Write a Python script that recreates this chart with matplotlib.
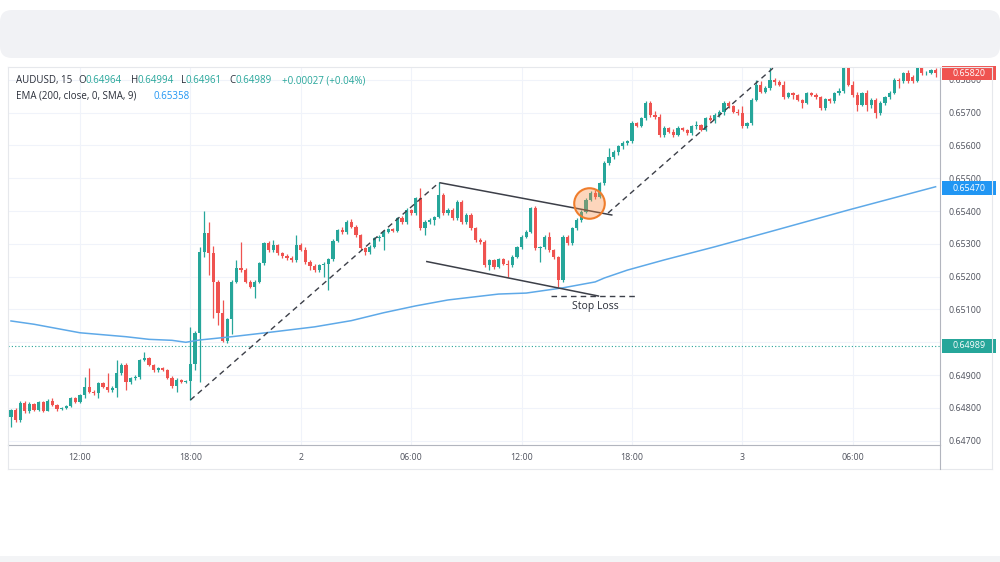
import numpy as np
import matplotlib.pyplot as plt
from matplotlib.patches import Rectangle, FancyBboxPatch

# AUDUSD 15 min candles, first bar 08:15 (day 1) -- prices x 1e5
opens = [64771, 64794, 64763, 64816, 64790, 64812, 64795, 64817, 64792, 64820,
         64809, 64797, 64801, 64805, 64829, 64819, 64838, 64865, 64850, 64845,
         64875, 64865, 64855, 64862, 64905, 64931, 64880, 64890, 64893, 64946,
         64952, 64931, 64916, 64922, 64916, 64892, 64866, 64885, 64880, 64882,
         64933, 65029, 65276, 65334, 65271, 65185, 65088, 65005, 65070, 65185,
         65226, 65221, 65185, 65170, 65185, 65241, 65302, 65280, 65297, 65271,
         65262, 65258, 65250, 65297, 65282, 65246, 65231, 65221, 65236, 65240,
         65253, 65310, 65342, 65335, 65368, 65352, 65327, 65286, 65276, 65291,
         65317, 65322, 65337, 65344, 65340, 65378, 65366, 65403, 65393, 65439,
         65347, 65368, 65372, 65381, 65449, 65393, 65403, 65378, 65428, 65368,
         65388, 65347, 65312, 65307, 65235, 65250, 65230, 65253, 65240, 65235,
         65261, 65289, 65322, 65337, 65408, 65286, 65289, 65322, 65281, 65259,
         65190, 65322, 65303, 65347, 65373, 65398, 65434, 65454, 65444, 65485,
         65546, 65566, 65581, 65597, 65607, 65612, 65668, 65660, 65683, 65729,
         65693, 65688, 65632, 65653, 65642, 65632, 65653, 65648, 65637, 65658,
         65663, 65648, 65683, 65678, 65693, 65703, 65729, 65719, 65703, 65698,
         65658, 65668, 65739, 65785, 65764, 65775, 65800, 65792, 65785, 65747,
         65759, 65754, 65739, 65729, 65759, 65754, 65747, 65714, 65741, 65734,
         65759, 65767, 65836, 65785, 65754, 65724, 65759, 65724, 65739, 65698,
         65729, 65747, 65761, 65800, 65795, 65820, 65810, 65795, 65836, 65820,
         65822, 65830]
highs = [64797, 64800, 64822, 64820, 64818, 64816, 64822, 64820, 64826, 64830,
         64812, 64804, 64808, 64833, 64832, 64842, 64895, 64921, 64855, 64880,
         64880, 64905, 64866, 64946, 64936, 64936, 64895, 64900, 64950, 64970,
         64956, 64935, 64926, 64926, 64920, 64898, 64890, 64888, 64886, 65048,
         65035, 65290, 65400, 65368, 65292, 65190, 65129, 65075, 65190, 65251,
         65307, 65226, 65190, 65190, 65246, 65307, 65310, 65312, 65300, 65276,
         65270, 65262, 65327, 65302, 65290, 65250, 65240, 65240, 65244, 65258,
         65316, 65346, 65350, 65372, 65375, 65356, 65330, 65290, 65295, 65320,
         65326, 65342, 65348, 65347, 65382, 65385, 65408, 65407, 65444, 65469,
         65372, 65378, 65385, 65487, 65455, 65408, 65408, 65433, 65433, 65393,
         65393, 65352, 65317, 65312, 65255, 65253, 65256, 65256, 65252, 65265,
         65293, 65326, 65342, 65413, 65415, 65293, 65326, 65337, 65285, 65263,
         65326, 65326, 65352, 65378, 65403, 65440, 65460, 65464, 65490, 65551,
         65592, 65586, 65602, 65612, 65617, 65673, 65672, 65688, 65734, 65735,
         65705, 65695, 65658, 65656, 65650, 65658, 65656, 65650, 65662, 65673,
         65666, 65688, 65692, 65698, 65708, 65734, 65735, 65722, 65712, 65720,
         65672, 65744, 65800, 65795, 65780, 65841, 65805, 65800, 65795, 65764,
         65764, 65758, 65742, 65764, 65764, 65760, 65750, 65745, 65745, 65764,
         65775, 65845, 65845, 65795, 65764, 65764, 65768, 65744, 65744, 65734,
         65752, 65766, 65805, 65805, 65825, 65830, 65815, 65841, 65841, 65826,
         65834, 65835]
lows = [64743, 64758, 64758, 64785, 64786, 64790, 64790, 64788, 64790, 64805,
        64790, 64793, 64798, 64802, 64815, 64815, 64830, 64845, 64838, 64830,
        64860, 64850, 64850, 64834, 64900, 64855, 64872, 64885, 64888, 64943,
        64928, 64910, 64910, 64912, 64888, 64862, 64850, 64876, 64876, 64824,
        64916, 64880, 65260, 65205, 65073, 65053, 65000, 64998, 65025, 65180,
        65215, 65180, 65165, 65134, 65180, 65236, 65275, 65276, 65266, 65258,
        65252, 65246, 65246, 65278, 65240, 65220, 65215, 65215, 65200, 65160,
        65248, 65305, 65330, 65330, 65348, 65322, 65281, 65265, 65270, 65286,
        65308, 65281, 65333, 65336, 65336, 65362, 65362, 65388, 65388, 65342,
        65327, 65362, 65358, 65378, 65388, 65388, 65373, 65373, 65362, 65362,
        65342, 65307, 65300, 65230, 65220, 65222, 65226, 65236, 65200, 65230,
        65258, 65285, 65318, 65332, 65281, 65246, 65284, 65276, 65255, 65169,
        65185, 65298, 65298, 65342, 65368, 65393, 65430, 65438, 65440, 65480,
        65540, 65560, 65570, 65590, 65602, 65607, 65655, 65655, 65678, 65688,
        65682, 65627, 65627, 65638, 65627, 65628, 65644, 65632, 65632, 65650,
        65644, 65644, 65673, 65668, 65688, 65694, 65714, 65698, 65693, 65653,
        65652, 65663, 65734, 65760, 65760, 65770, 65785, 65780, 65742, 65744,
        65740, 65734, 65715, 65725, 65750, 65742, 65709, 65709, 65730, 65730,
        65755, 65760, 65780, 65749, 65705, 65719, 65705, 65714, 65683, 65694,
        65724, 65742, 65756, 65775, 65790, 65790, 65790, 65792, 65815, 65816,
        65818, 65810]
closes = [64794, 64763, 64816, 64790, 64812, 64795, 64817, 64792, 64820, 64809,
          64797, 64801, 64805, 64829, 64819, 64838, 64865, 64850, 64845, 64875,
          64865, 64855, 64862, 64905, 64931, 64880, 64890, 64893, 64946, 64952,
          64931, 64916, 64922, 64916, 64892, 64866, 64885, 64880, 64882, 64933,
          65029, 65276, 65334, 65271, 65185, 65088, 65005, 65070, 65185, 65226,
          65221, 65185, 65170, 65185, 65241, 65302, 65280, 65297, 65271, 65262,
          65258, 65250, 65297, 65282, 65246, 65231, 65221, 65236, 65240, 65253,
          65310, 65342, 65335, 65368, 65352, 65327, 65286, 65276, 65291, 65317,
          65322, 65337, 65344, 65340, 65378, 65366, 65403, 65393, 65439, 65347,
          65368, 65372, 65381, 65449, 65393, 65403, 65378, 65428, 65368, 65388,
          65347, 65312, 65307, 65235, 65250, 65230, 65253, 65240, 65235, 65261,
          65289, 65322, 65337, 65408, 65286, 65289, 65322, 65281, 65259, 65190,
          65322, 65303, 65347, 65373, 65398, 65434, 65454, 65444, 65485, 65546,
          65566, 65581, 65597, 65607, 65612, 65668, 65660, 65683, 65729, 65693,
          65688, 65632, 65653, 65642, 65632, 65653, 65648, 65637, 65658, 65663,
          65648, 65683, 65678, 65693, 65703, 65729, 65719, 65703, 65698, 65658,
          65668, 65739, 65785, 65764, 65775, 65800, 65792, 65785, 65747, 65759,
          65754, 65739, 65729, 65759, 65754, 65747, 65714, 65741, 65734, 65759,
          65767, 65836, 65785, 65754, 65724, 65759, 65724, 65739, 65698, 65729,
          65747, 65761, 65800, 65795, 65820, 65795, 65795, 65836, 65820, 65822,
          65830, 65820]

# EMA 200 (bar index, price x 1e5)
ema_bar = [0, 5, 15, 25, 30, 35, 38, 41, 48, 56, 66, 74, 81, 88, 95, 106, 112,
           120, 127, 129, 134, 142, 153, 165, 182, 201]
ema_val = [65065, 65055, 65029, 65017, 65009, 65006, 65000, 65007, 65017, 65030,
           65047, 65066, 65090, 65111, 65129, 65147, 65150, 65166, 65184, 65196,
           65220, 65251, 65291, 65337, 65403, 65474]

time_ticks = [15, 39, 63, 87, 111, 135, 159, 183]
time_labels = ['12:00', '18:00', '2', '06:00', '12:00', '18:00', '3', '06:00']
price_ticks = [0.647, 0.648, 0.649, 0.650, 0.651, 0.652, 0.653, 0.654, 0.655, 0.656, 0.657, 0.658]

# drawings (bar, price x 1e5)
trend1 = ([39, 93], [64824, 65486])
chan_top = ([93.3, 130.6], [65486, 65388])
chan_bot = ([90.4, 127.7], [65246, 65141])
stop_line = ([117.5, 135.7], [65141, 65141])
trend2 = ([129.8, 165.7], [65394, 65836])
circle_pt = (125.7, 65424)
stop_txt = (127, 65108)

last_price = 0.65820
ema_last = 0.65470
cross_price = 0.64989

UP = '#26a69a'
DN = '#ef5350'
BLUE = '#2196f3'
TXT = '#2a2e39'
AX = '#50535e'

plt.rcParams['font.family'] = ['Open Sans', 'DejaVu Sans']

o = np.array(opens) / 1e5
h = np.array(highs) / 1e5
l = np.array(lows) / 1e5
c = np.array(closes) / 1e5
x = np.arange(len(o))
col = np.where(c >= o, UP, DN)

fig = plt.figure(figsize=(10, 5.62), dpi=100)
fig.patch.set_facecolor('white')

# grey card header on top, start of next card at the bottom
fig.patches.append(FancyBboxPatch((0.12, 5.16), 9.76, 0.24, boxstyle='round,pad=0.12',
                                  transform=fig.dpi_scale_trans, fc='#f1f2f5', ec='none'))
fig.patches.append(Rectangle((0, 0), 10, 0.065, transform=fig.dpi_scale_trans,
                             fc='#f3f4f6', ec='none'))

ax = fig.add_axes([0.008, 0.2082, 0.932, 0.6726])
ax.set_xlim(-0.65, 201.96)
ax.set_ylim(0.64687, 0.65839)

ax.set_yticks(price_ticks)
# 0.65000 sits under the last-value label
ax.set_yticklabels(['' if abs(p - 0.650) < 1e-9 else '%.5f' % p for p in price_ticks])
ax.yaxis.tick_right()
ax.set_xticks(time_ticks)
ax.set_xticklabels(time_labels)
ax.tick_params(axis='both', length=0, labelsize=6.4, colors=AX)
ax.tick_params(axis='y', pad=6)
ax.tick_params(axis='x', pad=6)
ax.grid(color='#f0f3fa', lw=0.8)
ax.set_axisbelow(True)
for s in ['top', 'left']:
    ax.spines[s].set_color('#e6e8ec')
    ax.spines[s].set_linewidth(0.8)
ax.spines['right'].set_color('#b2b5be')
ax.spines['bottom'].set_color('#b2b5be')
ax.spines['right'].set_linewidth(0.8)
ax.spines['bottom'].set_linewidth(0.8)

# candles
ax.vlines(x, l, h, colors=col, lw=0.9, zorder=2)
ax.bar(x, np.maximum(np.abs(c - o), 0.000015), bottom=np.minimum(o, c),
       width=0.68, color=col, zorder=3)

# ema
ax.plot(ema_bar, np.array(ema_val) / 1e5, color='#5ea9e8', lw=1.1, zorder=4)

# dotted price line
ax.axhline(cross_price, color=UP, ls=(0, (1, 2)), lw=0.8, zorder=1)

# drawings
dash = dict(color='#3c3f48', lw=1.0, ls=(0, (4, 3)), zorder=5)
ax.plot(trend1[0], np.array(trend1[1]) / 1e5, **dash)
ax.plot(trend2[0], np.array(trend2[1]) / 1e5, **dash)
ax.plot(stop_line[0], np.array(stop_line[1]) / 1e5, **dash)
ax.plot(chan_top[0], np.array(chan_top[1]) / 1e5, color='#3c3f48', lw=1.1, zorder=5)
ax.plot(chan_bot[0], np.array(chan_bot[1]) / 1e5, color='#3c3f48', lw=1.1, zorder=5)
ax.plot([circle_pt[0]], [circle_pt[1] / 1e5], marker='o', ms=22,
        mfc=(0.98, 0.55, 0.25, 0.35), mec='#ef7d2c', mew=1.5, zorder=6)
ax.text(stop_txt[0], stop_txt[1] / 1e5, 'Stop Loss', fontsize=7.5, color=TXT,
        ha='center', va='center', zorder=6)

# price labels on the axis
ytr = ax.get_yaxis_transform()
box_h = 0.00043
for val, fc in [(last_price, DN), (ema_last, BLUE), (cross_price, UP)]:
    ax.add_patch(Rectangle((1.002, val - box_h / 2), 0.058, box_h, transform=ytr,
                           fc=fc, ec='none', clip_on=False, zorder=10))
    ax.text(1.031, val, '%.5f' % val, transform=ytr, color='white', fontsize=6.4,
            ha='center', va='center', clip_on=False, zorder=11)

# outer frame of the widget
yb = 1 - 469 / 562
fig.add_artist(plt.Line2D([0.008, 0.992], [yb, yb], color='#e6e8ec', lw=0.8))
fig.add_artist(plt.Line2D([0.008, 0.008], [yb, 0.2082], color='#e6e8ec', lw=0.8))
fig.add_artist(plt.Line2D([0.94, 0.94], [yb, 0.2082], color='#b2b5be', lw=0.8))
fig.add_artist(plt.Line2D([0.94, 0.992], [0.8808, 0.8808], color='#e6e8ec', lw=0.8))
fig.add_artist(plt.Line2D([0.992, 0.992], [yb, 0.8808], color='#e6e8ec', lw=0.8))

# legend header text
y1 = 1 - 80.7 / 562
y2 = 1 - 96.5 / 562
hdr = [(16, 'AUDUSD, 15', TXT), (78, 'O', TXT), (85.5, '0.64964', UP),
       (131, 'H', TXT), (137.5, '0.64994', UP), (181.5, 'L', TXT), (186, '0.64961', UP),
       (229.5, 'C', TXT), (236, '0.64989', UP), (282, '+0.00027 (+0.04%)', UP)]
for px, s, cc in hdr:
    fig.text(px / 1000, y1, s, color=cc, fontsize=7, va='center')
fig.text(16 / 1000, y2, 'EMA (200, close, 0, SMA, 9)', color=TXT, fontsize=7, va='center')
fig.text(153 / 1000, y2, '0.65358', color=BLUE, fontsize=7, va='center')

fig.savefig('out.png', dpi=100, facecolor='white')
